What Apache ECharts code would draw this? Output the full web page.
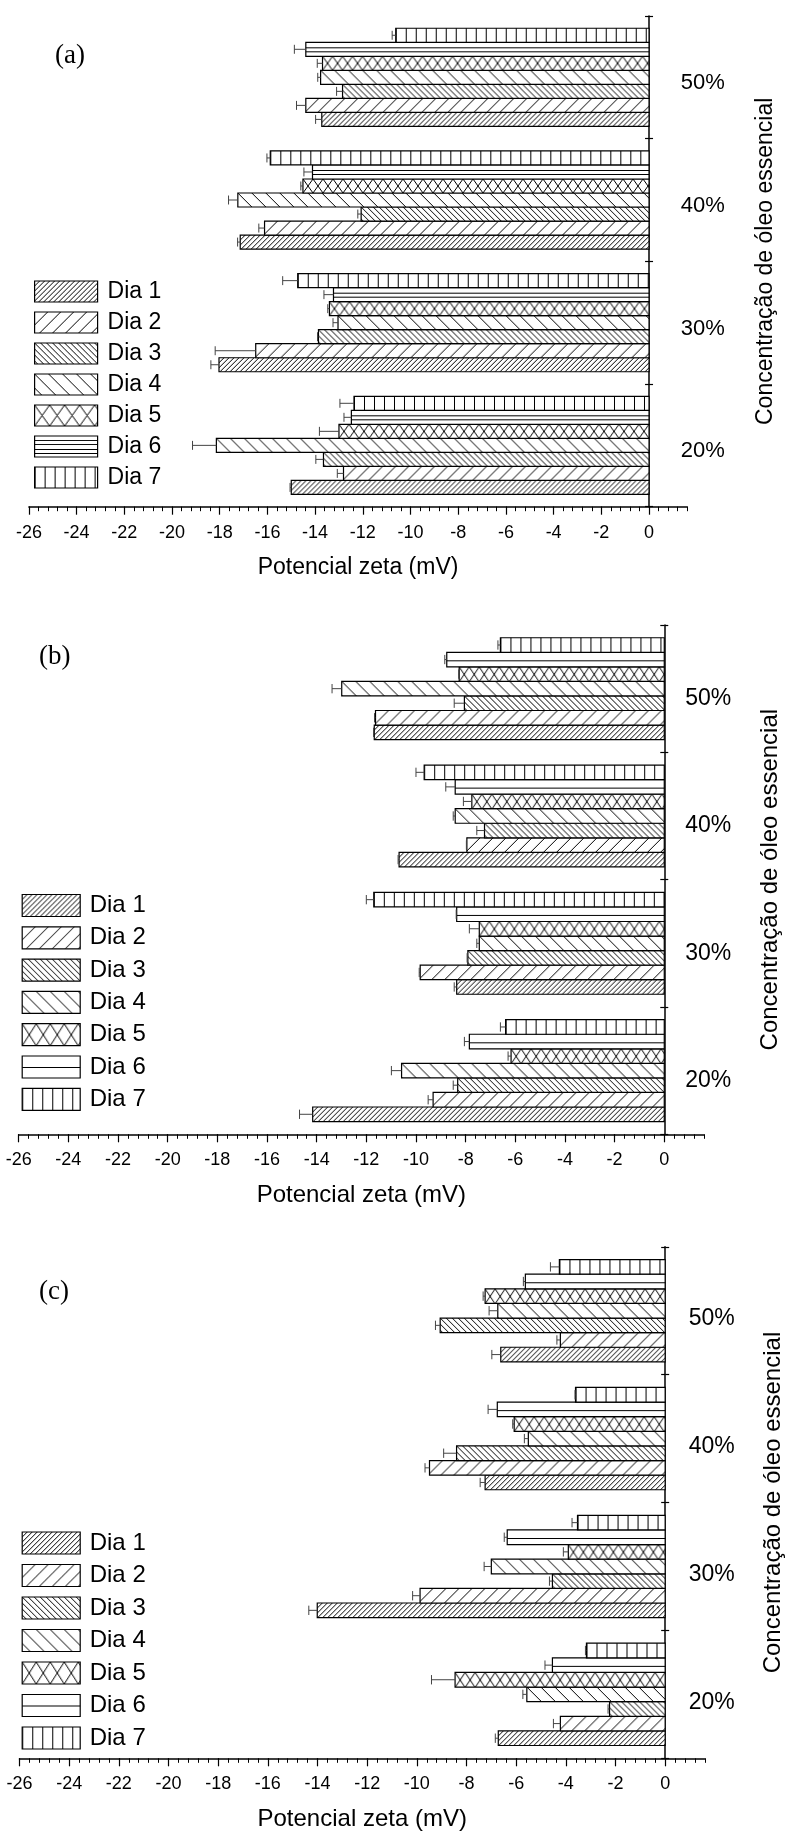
<!DOCTYPE html>
<html><head><meta charset="utf-8">
<script src="https://cdn.jsdelivr.net/npm/echarts@6/dist/echarts.min.js"></script>
<style>html,body{margin:0;padding:0;background:#fff}#c{width:787px;height:1834px}</style>
</head><body><div id="c"></div>
<script>
// ---- data ----
const categories = ['20%', '30%', '40%', '50%'];
const dayNames = ['Dia 1', 'Dia 2', 'Dia 3', 'Dia 4', 'Dia 5', 'Dia 6', 'Dia 7'];
const xTickValues = [-26, -24, -22, -20, -18, -16, -14, -12, -10, -8, -6, -4, -2, 0];
const panelLabels = ['(a)', '(b)', '(c)'];
const xAxisTitle = 'Potencial zeta (mV)';
const yAxisTitle = 'Concentração de óleo essencial';

// panel (a): rows = Dia 1..7, columns = 20%,30%,40%,50%
const meanA = [
  [-15.00, -18.03, -17.14, -13.72],
  [-12.81, -16.49, -16.12, -14.39],
  [-13.65, -13.86, -12.07, -12.85],
  [-18.14, -13.04, -17.24, -13.77],
  [-13.00, -13.40, -14.51, -13.69],
  [-12.48, -13.23, -14.11, -14.39],
  [-12.37, -14.73, -15.88, -10.62]
];
const errA = [
  [0.05, 0.34, 0.11, 0.26],
  [0.26, 1.70, 0.24, 0.39],
  [0.32, 0.04, 0.14, 0.25],
  [1.00, 0.21, 0.39, 0.12],
  [0.82, 0.07, 0.09, 0.22],
  [0.31, 0.40, 0.36, 0.48],
  [0.59, 0.63, 0.14, 0.15]
];
// panel (b)
const meanB = [
  [-14.16, -8.36, -10.68, -11.68],
  [-9.31, -9.83, -7.95, -11.63],
  [-8.32, -7.91, -7.24, -8.05],
  [-10.58, -7.45, -8.42, -12.99],
  [-6.17, -7.45, -7.75, -8.26],
  [-7.85, -8.36, -8.42, -8.76],
  [-6.39, -11.70, -9.67, -6.60]
];
const errB = [
  [0.53, 0.10, 0.04, 0.03],
  [0.20, 0.04, 0.02, 0.04],
  [0.18, 0.03, 0.31, 0.41],
  [0.41, 0.10, 0.08, 0.39],
  [0.12, 0.40, 0.34, 0.02],
  [0.20, 0.02, 0.38, 0.08],
  [0.21, 0.30, 0.33, 0.10]
];
// panel (c)
const meanC = [
  [-6.72, -14.01, -7.25, -6.62],
  [-4.22, -9.87, -9.49, -4.22],
  [-2.24, -4.54, -8.40, -9.06],
  [-5.57, -7.00, -5.51, -6.74],
  [-8.46, -3.90, -6.08, -7.25],
  [-4.54, -6.36, -6.76, -5.63],
  [-3.17, -3.53, -3.61, -4.26]
];
const errC = [
  [0.12, 0.34, 0.20, 0.36],
  [0.28, 0.30, 0.18, 0.14],
  [0.06, 0.12, 0.52, 0.19],
  [0.16, 0.29, 0.16, 0.35],
  [0.95, 0.20, 0.06, 0.08],
  [0.30, 0.12, 0.37, 0.08],
  [0.04, 0.22, 0.02, 0.36]
];

// ---- layout / style ----
const FONT = '"Liberation Sans", Arial, sans-serif';
const panels = [
  { mean: meanA, err: errA, grid: { left: 28.9, top: 16, width: 658.3, height: 490.7 },
    catMargin: -6.5, catLH: 12, catFont: 22, yNameGap: 67, nameFont: 23, tickFont: 18,
    leg: { left: 34, top: 280, w: 63, h: 21, gap: 8, font: 23, pad: 5 },
    title: { x: 55, y: 56 }, hN: 2, hNLeg: 4, crossLeg: [15, 21] },
  { mean: meanB, err: errB, grid: { left: 18.7, top: 625, width: 685.3, height: 509.3 },
    catMargin: -18.8, catLH: 20, catFont: 23, yNameGap: 54, nameFont: 24, tickFont: 18,
    leg: { left: 21.6, top: 893.5, w: 58, h: 22, gap: 8.3, font: 24, pad: 4.5 },
    title: { x: 39, y: 657 }, hN: 1, hNLeg: 1, crossLeg: [14, 22] },
  { mean: meanC, err: errC, grid: { left: 19.5, top: 1246.8, width: 685.4, height: 511.5 },
    catMargin: -16.2, catLH: 16, catFont: 23, yNameGap: 56, nameFont: 24, tickFont: 18,
    leg: { left: 21.6, top: 1531, w: 58, h: 22, gap: 8.5, font: 24, pad: 4.5 },
    title: { x: 39, y: 1292 }, hN: 1, hNLeg: 1, crossLeg: [14, 22] }
];

// ---- hatch pattern tiles ----
function tile(w, h, draw) {
  const c = document.createElement('canvas');
  c.width = w; c.height = h;
  const g = c.getContext('2d');
  g.fillStyle = '#fff'; g.fillRect(0, 0, w, h);
  g.strokeStyle = '#000'; g.lineWidth = 1;
  g.beginPath(); draw(g, w, h); g.stroke();
  return { image: c, repeat: 'repeat' };
}
const fwd = (g, w, h) => { for (let k = -1; k <= 1; k++) { g.moveTo(k * w, h); g.lineTo(k * w + w, 0); } };
const back = (g, w, h) => { for (let k = -1; k <= 1; k++) { g.moveTo(k * w, 0); g.lineTo(k * w + w, h); } };
const cross = (g, w, h) => { fwd(g, w, h); back(g, w, h); };
const hlines = n => (g, w, h) => { for (let i = 1; i <= n; i++) { const y = Math.round(h * i / (n + 1)) + 0.5; g.moveTo(0, y); g.lineTo(w, y); } };
const vline = (g, w, h) => { g.moveTo(0.5, 0); g.lineTo(0.5, h); };

const cache = {};
function fillFor(d, h, nH, crossW) {
  const H = Math.max(2, Math.round(h));
  const key = d + '_' + H + '_' + nH + '_' + crossW;
  if (cache[key]) return cache[key];
  let t;
  switch (d) {
    case 0: t = tile(5, 5, fwd); break;
    case 1: t = tile(13, 13, fwd); break;
    case 2: t = tile(6, 6, back); break;
    case 3: t = tile(14, 14, back); break;
    case 4: t = tile(crossW, H, cross); break;
    case 5: t = tile(4, H, hlines(nH)); break;
    default: t = tile(10, 4, vline);
  }
  cache[key] = t;
  return t;
}

function makeRender(p, d) {
  const cfg = panels[p];
  return function (params, api) {
    const ci = api.value(0), v = api.value(1), e = api.value(2);
    const base = api.coord([0, ci]);
    const end = api.coord([v, ci]);
    const eEnd = api.coord([v - e, ci]);
    const band = api.size([0, 1])[1];
    const bh = band * 0.8 / 7;
    const top = base[1] - band * 0.4 + (6 - d) * bh;
    const mid = top + bh / 2, cap = bh * 0.32;
    const w = base[0] - end[0];
    return {
      type: 'group',
      children: [
        { type: 'rect', x: end[0], y: top, shape: { x: 0, y: 0, width: w, height: bh },
          style: { fill: fillFor(d, bh, cfg.hN, 10), stroke: '#000', lineWidth: 1.2 } },
        { type: 'line', shape: { x1: eEnd[0], y1: mid, x2: end[0], y2: mid },
          style: { stroke: '#444', lineWidth: 1 } },
        { type: 'line', shape: { x1: eEnd[0], y1: mid - cap, x2: eEnd[0], y2: mid + cap },
          style: { stroke: '#444', lineWidth: 1 } }
      ]
    };
  };
}

const grids = [], xAxes = [], yAxes = [], series = [], legends = [], graphics = [];
panels.forEach((cfg, p) => {
  grids.push(Object.assign({ outerBoundsMode: 'none', containLabel: false }, cfg.grid));
  // major ticks + labels
  xAxes.push({
    type: 'value', gridIndex: p, min: -26, max: 1.6, interval: 2, position: 'bottom',
    name: xAxisTitle, nameLocation: 'middle', nameGap: 49, nameMoveOverlap: false,
    nameTextStyle: { fontSize: cfg.nameFont, color: '#000', fontFamily: FONT },
    axisLine: { show: true, lineStyle: { color: '#000', width: 1.5 } },
    axisTick: { show: true, length: 8, customValues: xTickValues, lineStyle: { color: '#000', width: 1.2 } },
    axisLabel: { show: true, margin: 17, fontSize: cfg.tickFont, color: '#000', fontFamily: FONT,
      customValues: xTickValues,
      formatter: v => (xTickValues.indexOf(v) >= 0 ? String(v) : '') },
    splitLine: { show: false }
  });
  // minor ticks
  xAxes.push({
    type: 'value', gridIndex: p, min: -26, max: 1.6, interval: 0.4, position: 'bottom',
    axisLine: { show: false }, axisLabel: { show: false }, splitLine: { show: false },
    axisTick: { show: true, length: 4.5, lineStyle: { color: '#000', width: 1 } }
  });
  yAxes.push({
    type: 'category', gridIndex: p, data: categories, position: 'right',
    name: yAxisTitle, nameLocation: 'middle', nameGap: cfg.yNameGap, nameMoveOverlap: false,
    nameTextStyle: { fontSize: cfg.nameFont, color: '#000', fontFamily: FONT },
    axisLine: { show: true, onZero: true, onZeroAxisIndex: p * 2, lineStyle: { color: '#000', width: 1.5 } },
    axisTick: { show: true, length: 4, lineStyle: { color: '#000', width: 1.2 } },
    axisLabel: { show: true, margin: cfg.catMargin, fontSize: cfg.catFont, color: '#000', fontFamily: FONT,
      verticalAlign: 'top', lineHeight: cfg.catLH },
    splitLine: { show: false }
  });
  yAxes.push({
    type: 'category', gridIndex: p, data: categories, position: 'right',
    axisLine: { show: false, onZero: true, onZeroAxisIndex: p * 2 },
    axisTick: { show: true, inside: true, length: 4, lineStyle: { color: '#000', width: 1.2 } },
    axisLabel: { show: false }, splitLine: { show: false }
  });
  dayNames.forEach((nm, d) => {
    series.push({
      type: 'custom', name: nm, xAxisIndex: p * 2, yAxisIndex: p * 2,
      data: categories.map((c, i) => [i, cfg.mean[d][i], cfg.err[d][i]]),
      encode: { x: 1, y: 0 },
      renderItem: makeRender(p, d),
      silent: true
    });
  });
  const L = cfg.leg;
  legends.push({
    orient: 'vertical', left: L.left, top: L.top, itemWidth: L.w, itemHeight: L.h, itemGap: L.gap,
    padding: 0, icon: 'rect', selectedMode: false,
    textStyle: { fontSize: L.font, lineHeight: L.font, color: '#000', fontFamily: FONT, padding: [0, 0, 0, L.pad] },
    data: dayNames.map((nm, d) => ({
      name: nm,
      itemStyle: {
        color: d === 4 ? tile(cfg.crossLeg[0], cfg.crossLeg[1], cross)
             : d === 5 ? tile(4, L.h, hlines(cfg.hNLeg))
             : fillFor(d, L.h, cfg.hNLeg, 10),
        borderColor: '#000', borderWidth: 1.2
      }
    }))
  });
  graphics.push({
    type: 'text', x: cfg.title.x, y: cfg.title.y,
    style: { text: panelLabels[p], fontSize: 27, fontFamily: '"Liberation Serif", "Times New Roman", serif',
      fill: '#000', verticalAlign: 'middle', align: 'left' }
  });
});

const chart = echarts.init(document.getElementById('c'), null, { renderer: 'canvas' });
chart.setOption({
  backgroundColor: '#fff',
  animation: false,
  grid: grids, xAxis: xAxes, yAxis: yAxes, series: series, legend: legends, graphic: graphics
});
</script></body></html>
